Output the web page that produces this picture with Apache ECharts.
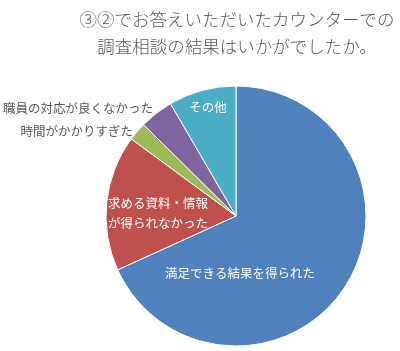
<!DOCTYPE html>
<html>
<head>
<meta charset="utf-8">
<script src="https://cdn.jsdelivr.net/npm/echarts@6/dist/echarts.min.js"></script>
<style>
  html, body { margin: 0; padding: 0; background: #fff; }
  #chart { width: 400px; height: 351px; }
</style>
</head>
<body>
<div id="chart"></div>
<script>
// 回答項目（時計回り、上から）
var categories = ['満足できる結果を得られた', '求める資料・情報\nが得られなかった', '時間がかかりすぎた', '職員の対応が良くなかった', 'その他'];
var values = [68.2, 16.9, 2.3, 4.2, 8.4];
var colors = ['#4f81bd', '#c0504d', '#9bbb59', '#8064a2', '#4bacc6'];

// ラベルの位置（ピクセル）
var labelPos = [
    { x: 240, y: 273, align: 'center', color: '#fff' },
    { x: 158, y: 213, align: 'center', color: '#fff' },
    { x: 133, y: 131, align: 'right', color: '#595959' },
    { x: 153, y: 108, align: 'right', color: '#595959' },
    { x: 208, y: 107, align: 'center', color: '#fff' }
];

var chart = echarts.init(document.getElementById('chart'));

var pieData = [];
for (var i = 0; i < categories.length; i++) {
    pieData.push({
        name: categories[i],
        value: values[i],
        itemStyle: { color: colors[i] },
        label: { color: labelPos[i].color }
    });
}

var option = {
    animation: false,
    title: {
        text: '③②でお答えいただいたカウンターでの\n調査相談の結果はいかがでしたか。',
        left: 232,
        top: 1,
        textAlign: 'center',
        textStyle: {
            fontFamily: 'Noto Sans CJK JP',
            fontSize: 17.5,
            fontWeight: 300,
            color: '#595959',
            lineHeight: 27
        }
    },
    series: [{
        type: 'pie',
        center: [236, 216],
        radius: 130,
        startAngle: 90,
        clockwise: true,
        silent: true,
        itemStyle: { borderColor: '#fff', borderWidth: 1 },
        label: {
            show: true,
            position: 'inside',
            formatter: '{b}',
            fontFamily: 'Noto Sans CJK JP',
            fontSize: 12.5,
            lineHeight: 20
        },
        labelLine: { show: false },
        labelLayout: function(params) {
            var p = labelPos[params.dataIndex];
            return { x: p.x, y: p.y, align: p.align, verticalAlign: 'middle' };
        },
        data: pieData
    }]
};

chart.setOption(option);
</script>
</body>
</html>
